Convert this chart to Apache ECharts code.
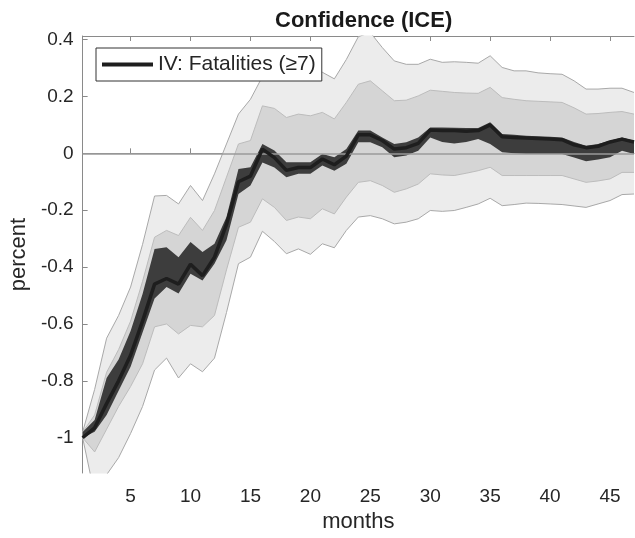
<!DOCTYPE html>
<html>
<head>
<meta charset="utf-8">
<script src="https://cdn.jsdelivr.net/npm/echarts@6/dist/echarts.min.js"></script>
<style>html,body{margin:0;padding:0;background:#fff}#c{width:635px;height:538px}</style>
</head>
<body>
<div id="c"></div>
<script>
const months = [1,2,3,4,5,6,7,8,9,10,11,12,13,14,15,16,17,18,19,20,21,22,23,24,25,26,27,28,29,30,31,32,33,34,35,36,37,38,39,40,41,42,43,44,45,46,47];
const xTicks = [5,10,15,20,25,30,35,40,45];
const yTicks = [-1,-0.8,-0.6,-0.4,-0.2,0,0.2,0.4];

const irf = [-1.00,-0.965,-0.88,-0.80,-0.71,-0.59,-0.46,-0.44,-0.46,-0.39,-0.43,-0.365,-0.25,-0.10,-0.08,0.015,-0.015,-0.06,-0.05,-0.05,-0.02,-0.04,-0.01,0.065,0.065,0.045,0.015,0.02,0.035,0.082,0.08,0.08,0.078,0.08,0.10,0.058,0.056,0.054,0.052,0.05,0.048,0.03,0.02,0.025,0.04,0.05,0.04];
const darkUp = [-0.98,-0.938,-0.79,-0.725,-0.625,-0.495,-0.336,-0.33,-0.365,-0.312,-0.347,-0.318,-0.224,-0.055,-0.049,0.033,0.01,-0.031,-0.031,-0.031,-0.002,-0.014,0.015,0.08,0.08,0.056,0.033,0.039,0.056,0.091,0.091,0.09,0.089,0.089,0.109,0.068,0.065,0.062,0.06,0.058,0.056,0.04,0.027,0.033,0.044,0.056,0.044];
const darkLo = [-1.00,-0.979,-0.92,-0.835,-0.75,-0.63,-0.51,-0.47,-0.493,-0.423,-0.447,-0.388,-0.306,-0.143,-0.113,-0.032,-0.05,-0.084,-0.072,-0.072,-0.043,-0.061,-0.037,0.039,0.039,0.021,-0.014,-0.008,0.009,0.056,0.04,0.035,0.04,0.05,0.033,0.004,0.0,-0.002,-0.002,-0.002,-0.002,-0.015,-0.028,-0.022,-0.014,0.009,-0.002];
const innerUp = [-0.98,-0.92,-0.77,-0.69,-0.59,-0.45,-0.295,-0.271,-0.289,-0.225,-0.271,-0.201,-0.084,0.033,0.045,0.167,0.158,0.126,0.138,0.132,0.144,0.121,0.179,0.243,0.255,0.22,0.185,0.187,0.202,0.222,0.218,0.214,0.212,0.211,0.232,0.196,0.19,0.185,0.183,0.181,0.179,0.16,0.138,0.14,0.144,0.147,0.138];
const innerLo = [-1.00,-1.05,-0.97,-0.89,-0.82,-0.74,-0.61,-0.60,-0.635,-0.605,-0.61,-0.57,-0.41,-0.26,-0.242,-0.16,-0.19,-0.236,-0.224,-0.23,-0.195,-0.213,-0.154,-0.102,-0.096,-0.113,-0.137,-0.125,-0.108,-0.072,-0.076,-0.078,-0.07,-0.061,-0.049,-0.078,-0.078,-0.078,-0.078,-0.078,-0.078,-0.09,-0.102,-0.097,-0.09,-0.067,-0.067];
const outerUp = [-0.98,-0.83,-0.65,-0.57,-0.47,-0.32,-0.15,-0.148,-0.178,-0.113,-0.166,-0.072,0.033,0.138,0.19,0.27,0.32,0.31,0.30,0.30,0.285,0.262,0.33,0.41,0.425,0.372,0.325,0.313,0.313,0.331,0.32,0.322,0.32,0.317,0.343,0.302,0.29,0.29,0.283,0.28,0.278,0.255,0.226,0.226,0.229,0.229,0.214];
const outerLo = [-1.00,-1.20,-1.13,-1.07,-0.985,-0.89,-0.762,-0.72,-0.79,-0.74,-0.768,-0.72,-0.56,-0.388,-0.365,-0.274,-0.31,-0.353,-0.336,-0.355,-0.318,-0.332,-0.271,-0.224,-0.219,-0.23,-0.248,-0.242,-0.23,-0.201,-0.204,-0.201,-0.19,-0.178,-0.158,-0.184,-0.18,-0.175,-0.176,-0.178,-0.18,-0.185,-0.19,-0.178,-0.166,-0.145,-0.143];

const diff = (u, l) => u.map((v, i) => +(v - l[i]).toFixed(4));
const FONT = 'Liberation Sans';
const AX = '#8a8a8a';
const LEG = 'IV: Fatalities (\u22657)';

function band(name, lo, up, fill, edge, z) {
  return [
    { name: name + 'Lo', type: 'line', stack: name, stackStrategy: 'all', data: lo, symbol: 'none', z: z,
      lineStyle: edge ? { color: edge, width: 1 } : { width: 0, opacity: 0 }, silent: true },
    { name: name + 'Up', type: 'line', stack: name, stackStrategy: 'all', data: diff(up, lo), symbol: 'none', z: z,
      lineStyle: edge ? { color: edge, width: 1 } : { width: 0, opacity: 0 },
      areaStyle: { color: fill, opacity: 1 }, silent: true }
  ];
}

const chart = echarts.init(document.getElementById('c'), null, { renderer: 'canvas' });
chart.setOption({
  animation: false,
  backgroundColor: '#fff',
  title: {
    text: 'Confidence (ICE)', left: 270, top: 5,
    textStyle: { fontFamily: FONT, fontSize: 22, fontWeight: 'bold', color: '#1a1a1a' }
  },
  legend: {
    data: [{ name: LEG, icon: 'rect' }],
    left: 96, top: 48, orient: 'vertical',
    backgroundColor: '#fff', borderColor: '#333', borderWidth: 1, borderRadius: 0,
    padding: [6, 6, 6, 6], itemWidth: 51, itemHeight: 4, itemGap: 5,
    itemStyle: { color: '#1e1e1e' },
    textStyle: { fontFamily: FONT, fontSize: 21, color: '#262626' }
  },
  grid: { left: 82, right: 1, top: 36, bottom: 65, containLabel: false },
  xAxis: [
    { type: 'category', data: months, boundaryGap: false,
      axisLine: { lineStyle: { color: AX, width: 1 } },
      axisTick: { inside: true, length: 5, lineStyle: { color: AX }, interval: (i, v) => xTicks.includes(+v) },
      axisLabel: { interval: (i, v) => xTicks.includes(+v), margin: 14, fontFamily: FONT, fontSize: 19, color: '#262626' },
      splitLine: { show: false },
      name: 'months', nameLocation: 'middle', nameGap: 38,
      nameTextStyle: { fontFamily: FONT, fontSize: 22, color: '#262626' } },
    { type: 'category', data: months, boundaryGap: false, position: 'top',
      axisLine: { lineStyle: { color: AX, width: 1 } },
      axisTick: { inside: true, length: 5, lineStyle: { color: AX }, interval: (i, v) => xTicks.includes(+v) },
      axisLabel: { show: false }, splitLine: { show: false } }
  ],
  yAxis: {
    type: 'value', min: -1.124, max: 0.4126,
    axisLine: { show: true, lineStyle: { color: AX, width: 1 } },
    axisTick: { show: true, inside: true, length: 5, lineStyle: { color: AX }, customValues: yTicks },
    axisLabel: { customValues: yTicks, margin: 9, fontFamily: FONT, fontSize: 19, color: '#262626',
      formatter: v => String(Math.round(v * 10) / 10) },
    splitLine: { show: false },
    name: 'percent', nameLocation: 'middle', nameGap: 42,
    nameTextStyle: { fontFamily: FONT, fontSize: 22, color: '#262626' }
  },
  series: [
    ...band('outer', outerLo, outerUp, '#ececec', '#a8a8a8', 1),
    ...band('inner', innerLo, innerUp, '#d5d5d5', '#bcbcbc', 2),
    { name: 'zero', type: 'line', data: [], z: 3, silent: true,
      markLine: { silent: true, symbol: 'none', label: { show: false },
        lineStyle: { color: '#9a9a9a', width: 1.5, type: 'solid' }, data: [{ yAxis: 0 }] } },
    ...band('dark', darkLo, darkUp, '#3d3d3d', null, 4),
    { name: LEG, type: 'line', data: irf, symbol: 'none', z: 5,
      lineStyle: { color: '#1e1e1e', width: 3.5 }, itemStyle: { color: '#1e1e1e' } }
  ]
});
</script>
</body>
</html>
